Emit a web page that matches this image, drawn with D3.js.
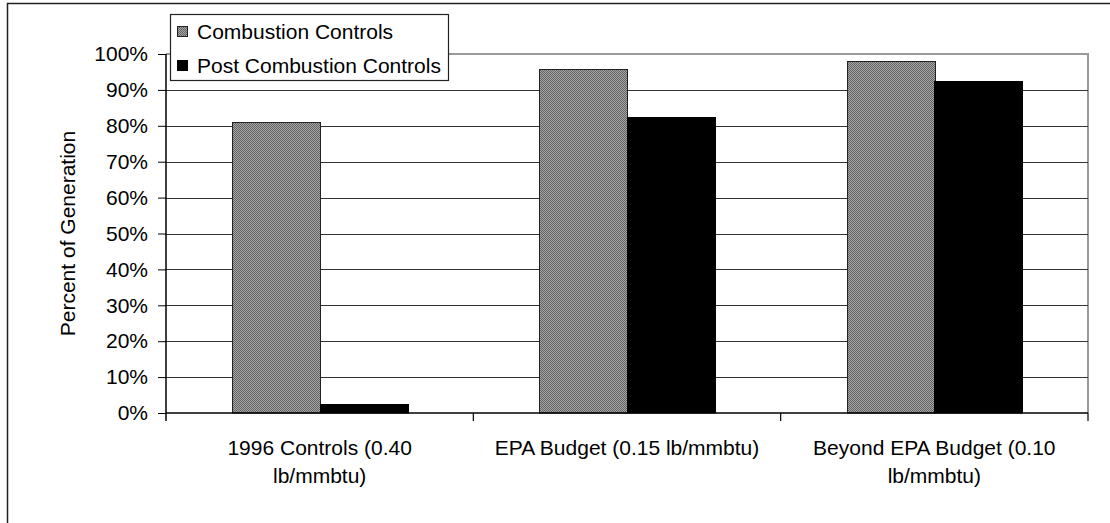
<!DOCTYPE html>
<html>
<head>
<meta charset="utf-8">
<script src="https://cdn.jsdelivr.net/npm/d3@7"></script>
<style>
  html, body { margin: 0; padding: 0; background: #fff; }
  svg { display: block; }
  text { font-family: "Liberation Sans", Arial, sans-serif; fill: #000; }
</style>
</head>
<body>
<svg id="chart" width="1110" height="523"></svg>
<script>
// Share of generation by control type under each NOx scenario
const categories = [
  "1996 Controls (0.40 lb/mmbtu)",
  "EPA Budget (0.15 lb/mmbtu)",
  "Beyond EPA Budget (0.10 lb/mmbtu)"
];
const seriesNames = ["Combustion Controls", "Post Combustion Controls"];
const combustion = [0.81, 0.959, 0.98];
const postCombustion = [0.026, 0.824, 0.925];
const yTicks = [0, 0.1, 0.2, 0.3, 0.4, 0.5, 0.6, 0.7, 0.8, 0.9, 1.0];

const svg = d3.select("#chart");
const FONT = 21;

// Dithered gray fill for the combustion series
const defs = svg.append("defs");
const pat = defs.append("pattern")
  .attr("id", "dither")
  .attr("width", 2).attr("height", 2)
  .attr("patternUnits", "userSpaceOnUse");
pat.append("rect").attr("width", 2).attr("height", 2).attr("fill", "#a4a4a4");
pat.append("rect").attr("width", 1).attr("height", 1).attr("fill", "#646464");
pat.append("rect").attr("x", 1).attr("y", 1).attr("width", 1).attr("height", 1).attr("fill", "#646464");

const fills = ["url(#dither)", "#000"];
const strokes = ["#222", "#000"];

// Outer chart frame
svg.append("rect")
  .attr("x", 7.5).attr("y", 3.5)
  .attr("width", 1200).attr("height", 600)
  .attr("fill", "none").attr("stroke", "#222").attr("stroke-width", 1.5);

const plot = { left: 166, right: 1088, top: 54, bottom: 413 };

const x0 = d3.scaleBand()
  .domain(categories)
  .range([plot.left, plot.right])
  .paddingInner(0).paddingOuter(0);

// Excel-style 150% gap width: each bar = band / 3.5
const barW = x0.bandwidth() / 3.5;
const x1 = d3.scaleBand()
  .domain(seriesNames)
  .range([0, barW * 2]);

const y = d3.scaleLinear().domain([0, 1]).range([plot.bottom, plot.top]);

// Plot-area border (gray) on top and right
svg.append("path")
  .attr("d", `M${plot.left},${plot.top}H${plot.right}V${plot.bottom}`)
  .attr("fill", "none").attr("stroke", "#999").attr("stroke-width", 2);

// Horizontal gridlines
svg.append("g").selectAll("line")
  .data(yTicks.filter(t => t > 0 && t < 1))
  .join("line")
  .attr("x1", plot.left).attr("x2", plot.right)
  .attr("y1", d => Math.round(y(d)) + 0.5).attr("y2", d => Math.round(y(d)) + 0.5)
  .attr("stroke", "#333").attr("stroke-width", 1);

// Bars (snapped to whole pixels so the dither stays even)
const barData = [];
categories.forEach((c, i) => {
  const start = x0(c) + (x0.bandwidth() - barW * 2) / 2;
  [combustion[i], postCombustion[i]].forEach((v, k) => {
    barData.push({ c, v, k, x: start + x1(seriesNames[k]) });
  });
});

svg.append("g").selectAll("rect")
  .data(barData)
  .join("rect")
  .attr("x", d => Math.round(d.x) + 0.5)
  .attr("y", d => Math.round(y(d.v)) + 0.5)
  .attr("width", Math.round(barW))
  .attr("height", d => plot.bottom - Math.round(y(d.v)) - 0.5)
  .attr("fill", d => fills[d.k])
  .attr("stroke", d => strokes[d.k])
  .attr("stroke-width", 1);

// Y axis
const yAxis = d3.axisLeft(y)
  .tickValues(yTicks)
  .tickFormat(d3.format(".0%"))
  .tickSize(8)
  .tickPadding(10);
const gy = svg.append("g")
  .attr("transform", `translate(${plot.left},0)`)
  .call(yAxis);
gy.select(".domain").attr("stroke", "#000").attr("stroke-width", 1.5)
  .attr("d", `M0,${plot.top}V${plot.bottom + 8}`);
gy.selectAll(".tick line").attr("stroke", "#000");
gy.selectAll(".tick text")
  .attr("font-size", FONT)
  .attr("font-family", "Liberation Sans, Arial, sans-serif")
  .attr("fill", "#000");

// X axis: baseline plus tick marks at category boundaries
const bounds = categories.map(c => x0(c)).concat([plot.right]);
svg.append("line")
  .attr("x1", plot.left).attr("x2", plot.right)
  .attr("y1", plot.bottom).attr("y2", plot.bottom)
  .attr("stroke", "#000").attr("stroke-width", 1.5);
svg.append("g").selectAll("line")
  .data(bounds.slice(1))
  .join("line")
  .attr("x1", d => d).attr("x2", d => d)
  .attr("y1", plot.bottom).attr("y2", plot.bottom + 8)
  .attr("stroke", "#000").attr("stroke-width", 1.2);

// Category labels, word-wrapped to the category width
const maxLabelW = 275;
const labels = svg.append("g").selectAll("text")
  .data(categories)
  .join("text")
  .attr("x", d => x0(d) + x0.bandwidth() / 2)
  .attr("y", 455)
  .attr("text-anchor", "middle")
  .attr("font-size", FONT);
labels.each(function(d) {
  const t = d3.select(this);
  const words = d.split(" ");
  let line = [];
  let tspan = t.append("tspan").attr("x", t.attr("x")).attr("dy", 0);
  words.forEach(w => {
    line.push(w);
    tspan.text(line.join(" "));
    if (tspan.node().getComputedTextLength() > maxLabelW && line.length > 1) {
      line.pop();
      tspan.text(line.join(" "));
      line = [w];
      tspan = t.append("tspan").attr("x", t.attr("x")).attr("dy", 28).text(w);
    }
  });
});

// Y axis title
svg.append("text")
  .attr("transform", `translate(75,${(plot.top + plot.bottom) / 2}) rotate(-90)`)
  .attr("text-anchor", "middle")
  .attr("font-size", FONT)
  .text("Percent of Generation");

// Legend
const legend = svg.append("g");
legend.append("rect")
  .attr("x", 170.5).attr("y", 14.5)
  .attr("width", 278).attr("height", 66)
  .attr("fill", "#fff").attr("stroke", "#222").attr("stroke-width", 1.2);
const items = legend.selectAll("g.item")
  .data(seriesNames)
  .join("g")
  .attr("class", "item")
  .attr("transform", (d, i) => `translate(0,${i * 34})`);
items.append("rect")
  .attr("x", 177.5).attr("y", 26.5)
  .attr("width", 10).attr("height", 10)
  .attr("fill", (d, i) => fills[i])
  .attr("stroke", (d, i) => strokes[i]).attr("stroke-width", 1);
items.append("text")
  .attr("x", 197)
  .attr("y", 38.5)
  .attr("font-size", FONT)
  .text(d => d);
</script>
</body>
</html>
